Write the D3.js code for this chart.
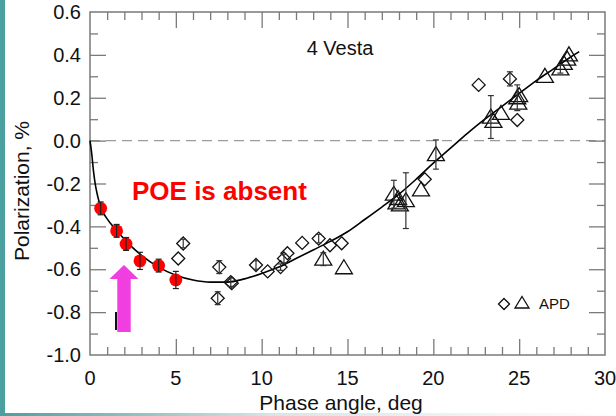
<!DOCTYPE html>
<html>
<head>
<meta charset="utf-8">
<script src="https://cdn.jsdelivr.net/npm/d3@7"></script>
<style>
  html, body { margin: 0; padding: 0; background: #fff; }
  svg { display: block; font-family: "Liberation Sans", Arial, sans-serif; }
</style>
</head>
<body>
<svg id="chart" width="616" height="416"></svg>
<script>
// Polarization phase curve of 4 Vesta near opposition

// Red points: new low-phase measurements
const redPhase = [0.62, 1.55, 2.1, 2.91, 4.0, 5.0];
const redPol   = [-0.316, -0.421, -0.482, -0.561, -0.583, -0.65];
const redErr   = [0.03, 0.03, 0.03, 0.04, 0.03, 0.04];

// APD data, diamonds
const diaPhase = [5.14, 5.43, 7.53, 7.44, 8.2, 8.26, 9.67, 10.35, 11.1, 11.3, 11.5, 12.36, 13.32, 13.98, 14.66, 19.5, 22.64, 24.46, 24.89];
const diaPol   = [-0.55, -0.48, -0.59, -0.735, -0.66, -0.665, -0.58, -0.61, -0.59, -0.55, -0.525, -0.477, -0.457, -0.488, -0.479, -0.18, 0.26, 0.288, 0.096];
const diaErr   = [0, 0.02, 0.03, 0.03, 0.02, 0, 0.02, 0, 0.015, 0.02, 0, 0, 0.02, 0, 0, 0, 0, 0.033, 0];

// APD data, triangles
const triPhase = [13.59, 14.79, 17.7, 17.85, 17.95, 18.05, 18.4, 19.28, 20.15, 23.35, 23.5, 23.94, 24.89, 24.95, 25.0, 26.5, 27.4, 27.6, 27.8, 27.9];
const triPol   = [-0.553, -0.593, -0.25, -0.29, -0.27, -0.3, -0.28, -0.23, -0.065, 0.11, 0.09, 0.127, 0.2, 0.175, 0.21, 0.30, 0.335, 0.36, 0.38, 0.40];
const triErr   = [0.03, 0, 0.065, 0, 0, 0, 0.13, 0, 0.068, 0.1, 0, 0, 0.06, 0, 0, 0, 0.02, 0, 0, 0];

// Fitted phase curve
const fitPhase = [0, 0.1, 0.2, 0.3, 0.45, 0.62, 1.0, 1.5, 2.0, 2.5, 3, 4, 5, 6, 7, 8, 9, 10, 11, 12, 13, 14, 15, 16, 17, 18, 19, 20, 21, 22, 23, 24, 25, 26, 27, 28, 28.5];
const fitPol   = [0, -0.06, -0.14, -0.2, -0.26, -0.31, -0.365, -0.415, -0.46, -0.5, -0.535, -0.59, -0.628, -0.65, -0.66, -0.66, -0.645, -0.62, -0.59, -0.55, -0.51, -0.47, -0.425, -0.368, -0.31, -0.25, -0.18, -0.105, -0.035, 0.035, 0.1, 0.16, 0.22, 0.28, 0.335, 0.39, 0.415];

// Axis ticks
const xTickLabels = [0, 5, 10, 15, 20, 25, 30];
const yTickLabels = [0.6, 0.4, 0.2, 0.0, -0.2, -0.4, -0.6, -0.8, -1.0];

const svg = d3.select("#chart");
const W = 616, H = 416;
const L = 90, R = 605, T = 12, B = 355;

const x = d3.scaleLinear().domain([0, 30]).range([L, R]);
const y = d3.scaleLinear().domain([-1.0, 0.6]).range([B, T]);

// page decoration: teal strip on the left, fading rule at the bottom
const defs = svg.append("defs");
const grad = defs.append("linearGradient").attr("id", "fade").attr("x1", "0").attr("x2", "1");
grad.append("stop").attr("offset", "0").attr("stop-color", "#4a9f9f");
grad.append("stop").attr("offset", "0.45").attr("stop-color", "#d9e6e6");
grad.append("stop").attr("offset", "1").attr("stop-color", "#ffffff");
svg.append("rect").attr("x", 0).attr("y", 0).attr("width", 5).attr("height", H).attr("fill", "#4a9f9f");
svg.append("rect").attr("x", 0).attr("y", 413).attr("width", W).attr("height", 3).attr("fill", "url(#fade)");

const axisColor = "#7a7a7a";
const g = svg.append("g");

// zero line
g.append("line")
  .attr("x1", x(0)).attr("x2", x(30)).attr("y1", y(0)).attr("y2", y(0))
  .attr("stroke", "#9a9a9a").attr("stroke-width", 1.2).attr("stroke-dasharray", "10,6");

// axes with inward ticks: minor every 1 deg / 0.1 %, major every 5 deg / 0.2 %
function ticksOn(axisGen, tr, major, minor) {
  const ax = g.append("g").attr("transform", tr);
  ax.call(axisGen.tickValues(minor).tickSize(-8).tickFormat(""));
  ax.selectAll(".tick line").attr("stroke", axisColor).attr("stroke-width", 1.3);
  const ax2 = g.append("g").attr("transform", tr);
  ax2.call(axisGen.tickValues(major).tickSize(-16).tickFormat(""));
  ax2.selectAll(".tick line").attr("stroke", axisColor).attr("stroke-width", 1.3);
  ax.select(".domain").remove();
  ax2.select(".domain").remove();
}
const xMinor = d3.range(1, 30).filter(v => v % 5 !== 0);
const xMajor = [5, 10, 15, 20, 25];
const yMinor = d3.range(-9, 6).map(v => v / 10).filter(v => Math.round(v * 10) % 2 !== 0);
const yMajor = [-0.8, -0.6, -0.4, -0.2, 0, 0.2, 0.4];

ticksOn(d3.axisBottom(x), `translate(0,${B})`, xMajor, xMinor);
ticksOn(d3.axisTop(x), `translate(0,${T})`, xMajor, xMinor);
ticksOn(d3.axisLeft(y), `translate(${L},0)`, yMajor, yMinor);
ticksOn(d3.axisRight(y), `translate(${R},0)`, yMajor, yMinor);

// frame
g.append("rect").attr("x", L).attr("y", T).attr("width", R - L).attr("height", B - T)
  .attr("fill", "none").attr("stroke", axisColor).attr("stroke-width", 1.5);

// tick labels
g.selectAll("text.xl").data(xTickLabels).enter().append("text")
  .attr("class", "xl").attr("x", d => x(d)).attr("y", 385)
  .attr("text-anchor", "middle").attr("font-size", 20).attr("fill", "#111")
  .text(d => d);
g.selectAll("text.yl").data(yTickLabels).enter().append("text")
  .attr("class", "yl").attr("x", 81).attr("y", d => y(d)).attr("dy", "0.36em")
  .attr("text-anchor", "end").attr("font-size", 20).attr("fill", "#111")
  .text(d => d3.format(".1f")(d).replace("−", "-"));

// axis titles
svg.append("text").attr("x", 341).attr("y", 410).attr("text-anchor", "middle")
  .attr("font-size", 21).attr("fill", "#111").text("Phase angle, deg");
svg.append("text").attr("transform", "translate(29,191) rotate(-90)").attr("text-anchor", "middle")
  .attr("font-size", 21).attr("fill", "#111").text("Polarization, %");

// fitted curve
const fit = fitPhase.map((p, i) => [p, fitPol[i]]);
g.append("path").datum(fit)
  .attr("d", d3.line().x(d => x(d[0])).y(d => y(d[1])).curve(d3.curveMonotoneX))
  .attr("fill", "none").attr("stroke", "#000").attr("stroke-width", 1.6);

// error bars
function errorBars(px, py, pe, color) {
  const data = px.map((p, i) => ({ p, v: py[i], e: pe[i] })).filter(d => d.e > 0);
  const eb = g.append("g").attr("stroke", color).attr("stroke-width", 1.2).attr("fill", "none");
  data.forEach(d => {
    const cx = x(d.p), y1 = y(d.v + d.e), y2 = y(d.v - d.e);
    eb.append("line").attr("x1", cx).attr("x2", cx).attr("y1", y1).attr("y2", y2);
    eb.append("line").attr("x1", cx - 3).attr("x2", cx + 3).attr("y1", y1).attr("y2", y1);
    eb.append("line").attr("x1", cx - 3).attr("x2", cx + 3).attr("y1", y2).attr("y2", y2);
  });
}

// diamonds
const diamond = "M0,-6.5L6.5,0L0,6.5L-6.5,0Z";
const triangle = "M0,-8L8.5,6L-8.5,6Z";
g.selectAll("path.dia").data(diaPhase.map((p, i) => [p, diaPol[i]])).enter().append("path")
  .attr("class", "dia").attr("d", diamond)
  .attr("transform", d => `translate(${x(d[0])},${y(d[1])})`)
  .attr("fill", "none").attr("stroke", "#111").attr("stroke-width", 1.3);
errorBars(diaPhase, diaPol, diaErr, "#333");

// triangles
g.selectAll("path.tri").data(triPhase.map((p, i) => [p, triPol[i]])).enter().append("path")
  .attr("class", "tri").attr("d", triangle)
  .attr("transform", d => `translate(${x(d[0])},${y(d[1])})`)
  .attr("fill", "none").attr("stroke", "#111").attr("stroke-width", 1.3);
errorBars(triPhase, triPol, triErr, "#333");

// red points
g.selectAll("circle.red").data(redPhase.map((p, i) => [p, redPol[i]])).enter().append("circle")
  .attr("class", "red").attr("cx", d => x(d[0])).attr("cy", d => y(d[1])).attr("r", 6.4)
  .attr("fill", "#ff0000");
errorBars(redPhase, redPol, redErr, "#222");

// annotations
svg.append("text").attr("x", 340).attr("y", 55).attr("text-anchor", "middle")
  .attr("font-size", 20).attr("fill", "#111").text("4 Vesta");
svg.append("text").attr("x", 132).attr("y", 200).attr("font-size", 26).attr("font-weight", "bold")
  .attr("fill", "#ff0000").text("POE is absent");

// arrow pointing at the low-phase points
const ax0 = 124, tipY = 265;
svg.append("path")
  .attr("d", `M${ax0},${tipY}L${ax0 + 14.5},${tipY + 14}L${ax0 + 6.7},${tipY + 14}L${ax0 + 6.7},332L${ax0 - 6.7},332L${ax0 - 6.7},${tipY + 14}L${ax0 - 14.5},${tipY + 14}Z`)
  .attr("fill", "#f03ee0");
svg.append("line").attr("x1", 116).attr("x2", 116).attr("y1", 312).attr("y2", 330)
  .attr("stroke", "#111").attr("stroke-width", 2);

// legend
const lg = svg.append("g");
lg.append("path").attr("d", "M0,-5.5L5.5,0L0,5.5L-5.5,0Z").attr("transform", "translate(504,304)")
  .attr("fill", "none").attr("stroke", "#111").attr("stroke-width", 1.3);
lg.append("path").attr("d", "M0,-6.5L7,5L-7,5Z").attr("transform", "translate(522,303)")
  .attr("fill", "none").attr("stroke", "#111").attr("stroke-width", 1.3);
lg.append("text").attr("x", 539).attr("y", 309).attr("font-size", 15).attr("fill", "#111").text("APD");
</script>
</body>
</html>
